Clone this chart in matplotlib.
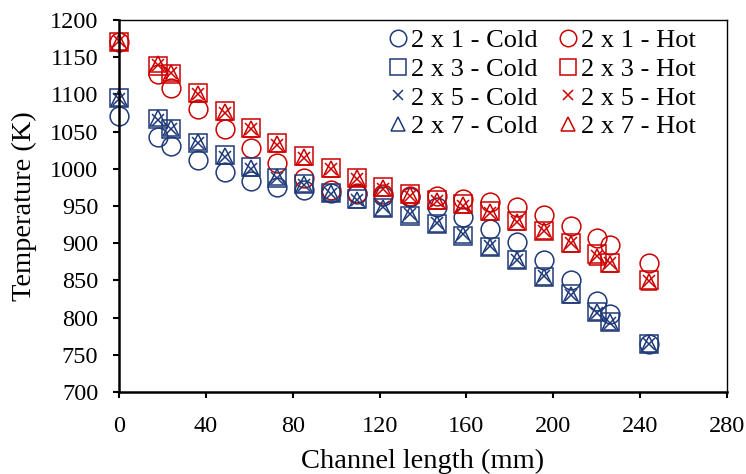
import matplotlib
matplotlib.use('Agg')
import matplotlib.pyplot as plt

plt.rcParams['font.family'] = ['Liberation Serif', 'DejaVu Serif']

# channel length positions (mm)
x = [0, 18, 24, 36.5, 48.7, 60.8, 73, 85.2, 97.5, 109.5, 121.7, 134,
     146.3, 158.6, 171, 183.5, 195.8, 208, 220, 226, 244]

# cold side temperatures (K)
cold_2x1 = [1071, 1043, 1031, 1012, 995, 983, 975, 971, 968, 966, 964, 962,
            948, 935, 919, 901, 877, 850, 822, 805, 765]
cold_2x3 = [1095, 1067, 1054, 1035, 1018, 1002, 988, 980, 967, 959, 947, 937,
            926, 910, 895, 877, 855, 832, 808, 794, 765]
cold_2x5 = [1094, 1066, 1053, 1034, 1016, 1000, 987, 978, 966, 958, 948, 939,
            927, 912, 896, 878, 856, 830, 806, 793, 764]
cold_2x7 = [1095, 1068, 1055, 1036, 1017, 1001, 989, 979, 967, 958, 947, 938,
            926, 911, 895, 877, 855, 831, 807, 794, 765]

# hot side temperatures (K)
hot_2x1 = [1170, 1127, 1109, 1080, 1053, 1028, 1008, 988, 971, 968, 966, 964,
           963, 960, 955, 948, 938, 923, 907, 898, 873]
hot_2x3 = [1170, 1138, 1127, 1102, 1077, 1055, 1034, 1017, 1001, 988, 975, 966,
           958, 952, 943, 930, 917, 900, 885, 874, 850]
hot_2x5 = [1171, 1140, 1128, 1100, 1075, 1053, 1032, 1015, 999, 986, 973, 964,
           956, 950, 941, 929, 916, 900, 883, 873, 849]
hot_2x7 = [1170, 1141, 1129, 1101, 1076, 1054, 1033, 1016, 1000, 987, 974, 965,
           957, 951, 942, 929, 916, 899, 882, 872, 848]

blue = '#1F3A78'
red = '#CC0000'

fig = plt.figure(figsize=(7.46, 4.74), dpi=100)
ax = fig.add_axes([0.1595, 0.173, 0.815, 0.785])

series = [
    (cold_2x1, 'o', 13.5, blue, '2 x 1 - Cold'),
    (hot_2x1, 'o', 13.5, red, '2 x 1 - Hot'),
    (cold_2x3, 's', 12.5, blue, '2 x 3 - Cold'),
    (hot_2x3, 's', 12.5, red, '2 x 3 - Hot'),
    (cold_2x5, 'x', 8, blue, '2 x 5 - Cold'),
    (hot_2x5, 'x', 8, red, '2 x 5 - Hot'),
    (cold_2x7, '^', 11, blue, '2 x 7 - Cold'),
    (hot_2x7, '^', 11, red, '2 x 7 - Hot'),
]
handles = {}
for y, m, ms, c, lab in series:
    h, = ax.plot(x, y, linestyle='none', marker=m, markersize=ms,
                 markerfacecolor='none', markeredgecolor=c,
                 markeredgewidth=1.1, label=lab, clip_on=False)
    handles[lab] = h

ax.set_xlim(0, 280)
ax.set_ylim(700, 1200)
ax.set_xticks(range(0, 281, 40))
ax.set_yticks(range(700, 1201, 50))
ax.set_xlabel('Channel length (mm)', fontsize=20.5, labelpad=9)
ax.set_ylabel('Temperature (K)', fontsize=20.5, labelpad=9.5)
ax.tick_params(axis='both', labelsize=17.5, direction='out', length=4,
               width=1.5, color='black')
ax.tick_params(axis='x', pad=13)
ax.tick_params(axis='y', pad=11)
for s in ['left', 'bottom']:
    ax.spines[s].set_linewidth(1.8)
for s in ['top', 'right']:
    ax.spines[s].set_linewidth(1.0)

order = ['2 x 1 - Cold', '2 x 3 - Cold', '2 x 5 - Cold', '2 x 7 - Cold',
         '2 x 1 - Hot', '2 x 3 - Hot', '2 x 5 - Hot', '2 x 7 - Hot']
ax.legend([handles[k] for k in order], order, ncol=2, loc='upper right',
          frameon=False, fontsize=19, markerscale=0.88, handlelength=0.75,
          handletextpad=0.1, columnspacing=0.8, labelspacing=0.2,
          borderaxespad=0.0, bbox_to_anchor=(0.966, 1.005))

fig.savefig('out.png', dpi=100)
